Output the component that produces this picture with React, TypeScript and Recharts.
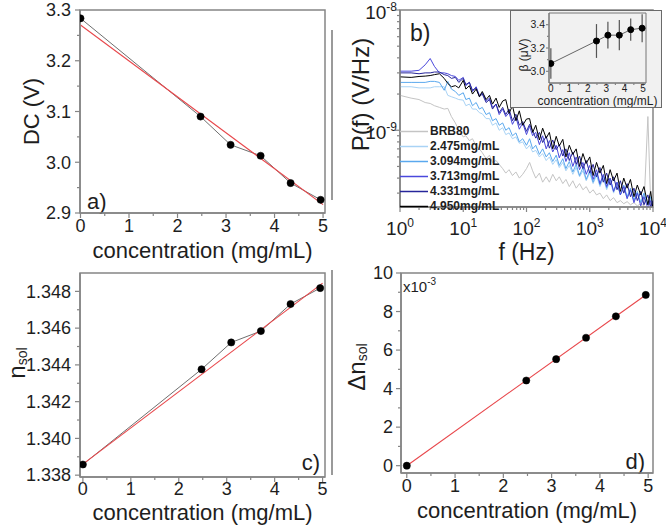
import React from 'react';
import { ComposedChart, Line, XAxis, YAxis, ReferenceArea, Legend, ErrorBar } from 'recharts';

const FONT = '"Liberation Sans", Arial, Helvetica, sans-serif';
const AXIS = '#858585';
const TXT = '#1e1e1e';
const FIT = '#e8474b';
const CONN = '#6f6f6f';

// ---------- data ----------
const concentrations = [0, 2.475, 3.094, 3.713, 4.331, 4.95];

// a) DC voltage
const dcValues = [3.2836, 3.09, 3.0344, 3.0128, 2.959, 2.926];
const dcFitX = [0, 5];
const dcFitY = [3.2705, 2.9164];

// c) refractive index
const nValues = [1.33858, 1.34376, 1.34522, 1.34584, 1.34731, 1.34818];
const nFitX = [0, 5];
const nFitY = [1.3386, 1.34845];

// d) delta n (x1e-3)
const dnValues = [0, 4.42, 5.53, 6.64, 7.75, 8.86];
const dnFitX = [0, 5];
const dnFitY = [0, 8.95];

// inset beta
const betaValues = [3.067, 3.26, 3.31, 3.31, 3.357, 3.37];
const betaErr = [0.13, 0.145, 0.115, 0.13, 0.095, 0.12];

// b) spectra, P(f) in units of 1e-10 V/Hz
const freqs = [1, 1.5, 2, 2.5, 3, 3.5, 4.2, 5, 5.7, 6.5, 7.5, 8.5, 10, 11, 12.5, 14, 16, 18, 20, 23, 26, 29, 33, 37, 42, 47, 53, 60, 68, 77, 87, 100, 112, 125, 140, 160, 180, 205, 230, 260, 295, 330, 375, 420, 475, 540, 610, 690, 780, 880, 1000, 1130, 1280, 1450, 1640, 1850, 2100, 2380, 2700, 3050, 3450, 3900, 4400, 5000, 5650, 6400, 7200, 8300, 9200, 10000];
const psdBRB80 = [19.5, 18.5, 18.0, 17.0, 16.7, 16.0, 15.5, 15.0, 15.2, 13.0,
  11.5, 10.0, 8.8, 9.0, 8.2, 8.5, 7.4, 7.0, 6.5, 5.8,
  6.2, 5.4, 5.6, 5.2, 4.8, 4.4, 4.7, 4.2, 4.5, 4.0,
  4.3, 4.8, 5.4, 4.6, 4.0, 4.4, 3.7, 4.1, 3.7, 4.3,
  3.8, 4.1, 3.6, 3.9, 3.4, 3.8, 3.3, 3.6, 3.2, 3.4,
  3.0, 3.2, 2.9, 3.0, 2.7, 2.9, 2.6, 2.75, 2.5, 2.6,
  2.45, 2.55, 2.4, 2.5, 2.35, 2.45, 2.35, 13.0, 2.4, 2.35];
const psd2475 = [23.0, 23.0, 22.5, 22.5, 22.5, 23.0, 23.0, 23.0, 19.5, 19.0,
  18.5, 18.0, 17.8, 16.0, 16.5, 15.0, 15.0, 14.0, 13.7, 12.5,
  12.5, 11.0, 11.5, 10.0, 10.5, 9.2, 9.5, 8.5, 8.8, 7.8,
  8.0, 7.0, 7.5, 6.6, 6.8, 6.0, 6.4, 5.6, 6.0, 5.2,
  5.7, 4.9, 5.4, 4.6, 5.1, 4.3, 4.9, 4.1, 4.6, 3.8,
  4.4, 3.6, 4.2, 3.4, 4.0, 3.2, 3.8, 3.0, 3.6, 2.9,
  3.4, 2.7, 3.2, 2.6, 3.0, 2.5, 2.9, 2.4, 2.7, 2.3];
const psd3094 = [25.0, 25.0, 25.0, 25.0, 25.5, 25.5, 25.0, 21.5, 25.5, 22.0,
  21.0, 19.5, 20.5, 18.0, 18.5, 16.0, 17.0, 15.0, 15.5, 13.5,
  14.0, 12.0, 12.5, 11.0, 11.5, 10.0, 10.5, 9.0, 9.5, 8.0,
  8.5, 7.5, 8.5, 7.0, 7.5, 6.3, 7.0, 6.0, 6.5, 5.5,
  6.2, 5.1, 5.8, 4.8, 5.5, 4.5, 5.2, 4.2, 4.9, 3.9,
  4.6, 3.7, 4.4, 3.5, 4.2, 3.3, 4.0, 3.1, 3.7, 2.9,
  3.5, 2.8, 3.3, 2.6, 3.1, 2.5, 3.0, 2.4, 2.8, 2.3];
const psd3713 = [31.0, 31.0, 31.5, 35.0, 39.5, 34.0, 30.0, 30.0, 29.5, 28.5,
  28.0, 26.0, 27.5, 23.5, 25.0, 21.0, 23.0, 19.5, 20.5, 17.5,
  18.5, 15.5, 16.5, 13.5, 15.0, 13.0, 14.0, 11.2, 12.8, 10.2,
  11.5, 9.2, 10.8, 9.0, 9.6, 7.6, 9.0, 7.0, 8.2, 6.6,
  7.5, 5.9, 6.9, 5.5, 6.5, 5.0, 6.0, 4.7, 5.4, 4.3,
  5.1, 3.9, 4.7, 3.6, 4.3, 3.4, 4.0, 3.1, 3.7, 2.9,
  3.4, 2.7, 3.2, 2.5, 3.0, 2.35, 2.8, 2.25, 2.6, 2.2];
const psd4331 = [30.0, 30.0, 29.5, 30.0, 30.0, 30.5, 30.5, 29.0, 28.5, 27.0,
  27.5, 25.0, 27.0, 24.0, 25.0, 21.5, 22.5, 19.0, 20.0, 17.0,
  18.0, 15.0, 16.5, 14.0, 15.5, 13.5, 15.0, 12.0, 13.6, 11.0,
  11.8, 9.8, 11.2, 9.9, 8.6, 9.6, 7.9, 8.9, 7.1, 8.3,
  6.9, 7.6, 6.1, 7.0, 5.6, 6.6, 5.2, 6.1, 4.8, 5.6,
  4.4, 5.2, 4.1, 4.9, 3.7, 4.4, 3.5, 4.1, 3.2, 3.8,
  3.0, 3.6, 2.8, 3.3, 2.6, 3.1, 2.4, 2.9, 2.3, 2.6];
const psd4950 = [27.8, 27.5, 28.0, 28.2, 28.5, 29.0, 29.5, 27.0, 24.5, 23.0,
  23.5, 22.5, 26.0, 22.0, 23.5, 20.0, 22.0, 19.0, 21.0, 18.0,
  19.5, 16.5, 18.5, 15.5, 17.5, 18.0, 13.8, 16.0, 12.0, 14.5,
  11.0, 12.4, 12.5, 9.6, 11.0, 8.3, 10.4, 8.6, 9.6, 7.0,
  8.9, 7.4, 8.4, 6.0, 7.5, 6.3, 7.0, 5.0, 6.4, 5.3,
  6.0, 4.2, 5.4, 4.4, 5.1, 3.6, 4.7, 3.8, 4.4, 3.1,
  4.0, 3.3, 3.9, 2.8, 3.5, 2.9, 3.4, 2.4, 3.1, 2.2];

const seriesKeys = ['brb', 'c2475', 'c3094', 'c3713', 'c4331', 'c4950'];
const seriesNames = ['BRB80', '2.475mg/mL', '3.094mg/mL', '3.713mg/mL', '4.331mg/mL', '4.950mg/mL'];
const seriesColors = ['#c4c4c4', '#a9d3f5', '#5aa8ee', '#4a48dc', '#26259a', '#000000'];
const seriesValues = [psdBRB80, psd2475, psd3094, psd3713, psd4331, psd4950];

// ticks
const concTicks = [0, 0.5, 1, 1.5, 2, 2.5, 3, 3.5, 4, 4.5, 5];
const concMajors = [0, 1, 2, 3, 4, 5];
const dcTicks = [2.9, 2.95, 3.0, 3.05, 3.1, 3.15, 3.2, 3.25, 3.3];
const dcMajors = [2.9, 3.0, 3.1, 3.2, 3.3];
const nTicks = [1.338, 1.339, 1.34, 1.341, 1.342, 1.343, 1.344, 1.345, 1.346, 1.347, 1.348];
const nMajors = [1.338, 1.34, 1.342, 1.344, 1.346, 1.348];
const dnTicks = [0, 1, 2, 3, 4, 5, 6, 7, 8, 9, 10];
const dnMajors = [0, 2, 4, 6, 8, 10];
const betaTicks = [3.0, 3.1, 3.2, 3.3, 3.4];
const betaMajors = [3.0, 3.2, 3.4];
const fTicks = [1, 2, 3, 4, 5, 6, 7, 8, 9, 10, 20, 30, 40, 50, 60, 70, 80, 90, 100, 200, 300, 400, 500, 600, 700, 800, 900, 1000, 2000, 3000, 4000, 5000, 6000, 7000, 8000, 9000, 10000];
const fMajors = [1, 10, 100, 1000, 10000];
const pTicks = [3e-10, 4e-10, 5e-10, 6e-10, 7e-10, 8e-10, 9e-10, 1e-9, 2e-9, 3e-9, 4e-9, 5e-9, 6e-9, 7e-9, 8e-9, 9e-9, 1e-8];
const pMajors = [1e-9, 1e-8];

// ---------- built tables ----------
const pts = (xs: number[], ys: number[]) => xs.map((x, i) => ({ x, y: ys[i] }));
const dcData = pts(concentrations, dcValues);
const dcFit = pts(dcFitX, dcFitY);
const nData = pts(concentrations, nValues);
const nFit = pts(nFitX, nFitY);
const dnData = pts(concentrations, dnValues);
const dnFit = pts(dnFitX, dnFitY);
const betaData = concentrations.map((x, i) => ({ x, y: betaValues[i], err: betaErr[i] }));
const psdData = freqs.map((f, i) => {
  const row: any = { f };
  seriesKeys.forEach((k, j) => { row[k] = seriesValues[j][i] * 1e-10; });
  return row;
});

// ---------- helpers ----------
const isMajorVal = (majors: number[], v: number) =>
  majors.some((m) => Math.abs(m - v) <= Math.abs(m) * 1e-6 + 1e-15);

type TickCfg = {
  majors: number[];
  label: (v: number) => React.ReactNode;
  fontSize: number;
  major: number;
  minor: number;
  offset: number;
  dy?: number;
};

const makeYTick = (c: TickCfg) => (p: any) => {
  const { x, y, payload } = p;
  const maj = isMajorVal(c.majors, payload.value);
  return (
    <g>
      <line x1={x} x2={x - (maj ? c.major : c.minor)} y1={y} y2={y} stroke={AXIS} strokeWidth={1.2} />
      {maj ? (
        <text x={x - c.offset} y={y + (c.dy ?? c.fontSize * 0.35)} textAnchor="end" fontSize={c.fontSize} fontFamily={FONT} fill={TXT}>
          {c.label(payload.value)}
        </text>
      ) : null}
    </g>
  );
};

const makeXTick = (c: TickCfg) => (p: any) => {
  const { x, y, payload } = p;
  const maj = isMajorVal(c.majors, payload.value);
  return (
    <g>
      <line x1={x} x2={x} y1={y} y2={y + (maj ? c.major : c.minor)} stroke={AXIS} strokeWidth={1.2} />
      {maj ? (
        <text x={x} y={y + c.offset} textAnchor="middle" fontSize={c.fontSize} fontFamily={FONT} fill={TXT}>
          {c.label(payload.value)}
        </text>
      ) : null}
    </g>
  );
};

const powLabel = (v: number) => (
  <>
    <tspan>10</tspan>
    <tspan dy={-8} fontSize={12}>{String(Math.round(Math.log10(v)))}</tspan>
  </>
);

const xTitle = (text: React.ReactNode, baseline: number, fontSize: number) => (props: any) => {
  const vb = props.viewBox || {};
  const cx = (vb.x ?? 0) + (vb.width ?? 0) / 2;
  return (
    <text x={cx} y={(vb.y ?? 0) + baseline} textAnchor="middle" fontSize={fontSize} fontFamily={FONT} fill={TXT}>
      {text}
    </text>
  );
};

const yTitle = (content: React.ReactNode, cxOff: number, cyShift: number, fontSize: number) => (props: any) => {
  const vb = props.viewBox || {};
  const cx = (vb.x ?? 0) + cxOff;
  const cy = (vb.y ?? 0) + (vb.height ?? 0) / 2 + cyShift;
  return (
    <text x={cx} y={cy} transform={`rotate(-90 ${cx} ${cy})`} textAnchor="middle" dominantBaseline="central" fontSize={fontSize} fontFamily={FONT} fill={TXT}>
      {content}
    </text>
  );
};

const tag = (text: React.ReactNode, corner: 'bl' | 'br' | 'tl', dx: number, dy: number, fontSize: number) => (props: any) => {
  const vb = props.viewBox || {};
  const x0 = vb.x ?? 0, y0 = vb.y ?? 0, w = vb.width ?? 0, h = vb.height ?? 0;
  const x = corner === 'br' ? x0 + w - dx : x0 + dx;
  const y = corner === 'tl' ? y0 + dy : y0 + h - dy;
  return (
    <text x={x} y={y} textAnchor={corner === 'br' ? 'end' : 'start'} fontSize={fontSize} fontFamily={FONT} fill={TXT}>
      {text}
    </text>
  );
};

const axisLine = { stroke: AXIS, strokeWidth: 1.5 };
const dotStyle = { r: 3.6, fill: '#000', stroke: '#000', strokeWidth: 0.5 };
const commonTickProps = { tickSize: 0, tickMargin: 0, tickLine: false, interval: 0 as const, allowDataOverflow: true };

// ---------- panels ----------
const PanelA = () => (
  <ComposedChart width={330} height={275} margin={{ top: 10, right: 5, bottom: 15, left: 0 }}>
    <XAxis type="number" dataKey="x" domain={[-0.01, 5.04]} ticks={concTicks} height={47} axisLine={axisLine}
      {...commonTickProps}
      tick={makeXTick({ majors: concMajors, label: (v) => String(v), fontSize: 18, major: 5, minor: 3, offset: 19 })}
      label={xTitle('concentration (mg/mL)', 45, 22)} />
    <YAxis type="number" domain={[2.9, 3.3]} ticks={dcTicks} width={80} axisLine={axisLine}
      {...commonTickProps}
      tick={makeYTick({ majors: dcMajors, label: (v) => v.toFixed(1), fontSize: 18, major: 5, minor: 3, offset: 9 })}
      label={yTitle('DC (V)', 31, 0, 22)} />
    <ReferenceArea x1={-0.01} x2={5.04} y1={2.9} y2={3.3} fill="none" stroke={AXIS} strokeWidth={1.5}
      label={tag('a)', 'bl', 7, 4, 22)} />
    <Line data={dcData} dataKey="y" stroke={CONN} strokeWidth={1} dot={false} isAnimationActive={false} />
    <Line data={dcFit} dataKey="y" stroke={FIT} strokeWidth={1.1} dot={false} isAnimationActive={false} />
    <Line data={dcData} dataKey="y" stroke="none" dot={dotStyle} isAnimationActive={false} />
  </ComposedChart>
);

const legendContent = () => (
  <div style={{ fontFamily: FONT, fontWeight: 'bold', fontSize: 12, color: TXT, lineHeight: '15px' }}>
    {seriesNames.map((n, i) => (
      <div key={n} style={{ display: 'flex', alignItems: 'center', height: 15, whiteSpace: 'nowrap' }}>
        <svg width={30} height={15} style={{ display: 'block' }}>
          <line x1={0} x2={28} y1={7.5} y2={7.5} stroke={seriesColors[i]} strokeWidth={1.5} />
        </svg>
        <span>{n}</span>
      </div>
    ))}
  </div>
);

const PanelB = () => (
  <ComposedChart width={336} height={275} data={psdData} margin={{ top: 10, right: 13, bottom: 15, left: 0 }}>
    <XAxis type="number" dataKey="f" scale="log" domain={[1, 10000]} ticks={fTicks} height={53} axisLine={axisLine}
      {...commonTickProps}
      tick={makeXTick({ majors: fMajors, label: powLabel, fontSize: 19, major: 5, minor: 3, offset: 28 })}
      label={xTitle('f (Hz)', 53, 23)} />
    <YAxis type="number" scale="log" domain={[2.3e-10, 1e-8]} ticks={pTicks} width={70} axisLine={axisLine}
      {...commonTickProps}
      tick={makeYTick({ majors: pMajors, label: powLabel, fontSize: 19, major: 5, minor: 3, offset: 3, dy: 9 })}
      label={yTitle('P(f) (V/Hz)', 30, -14, 24)} />
    <ReferenceArea x1={1} x2={10000} y1={2.3e-10} y2={1e-8} fill="none" stroke={AXIS} strokeWidth={1.5}
      label={tag('b)', 'tl', 10, 31, 23)} />
    {seriesKeys.map((k, i) => (
      <Line key={k} dataKey={k} name={seriesNames[i]} stroke={seriesColors[i]} strokeWidth={1} dot={false} isAnimationActive={false} />
    ))}
    <Legend content={legendContent} layout="vertical" align="center" verticalAlign="middle"
      wrapperStyle={{ left: 70, top: 124, width: 'auto' }} />
  </ComposedChart>
);

const Inset = () => (
  <ComposedChart width={150} height={96} margin={{ top: 2, right: 15, bottom: 0, left: 0 }}>
    <XAxis type="number" dataKey="x" domain={[-0.1, 5.16]} ticks={concTicks} height={24} axisLine={{ stroke: '#777', strokeWidth: 1 }}
      {...commonTickProps}
      tick={makeXTick({ majors: concMajors, label: (v) => String(v), fontSize: 10, major: 3, minor: 2, offset: 9 })}
      label={xTitle('concentration (mg/mL)', 22, 12)} />
    <YAxis type="number" domain={[2.9, 3.5]} ticks={betaTicks} width={38} axisLine={{ stroke: '#777', strokeWidth: 1 }}
      {...commonTickProps}
      tick={makeYTick({ majors: betaMajors, label: (v) => v.toFixed(1), fontSize: 10.5, major: 3, minor: 2, offset: 4 })}
      label={yTitle('β (μV)', 13, 7, 12)} />
    <ReferenceArea x1={-0.1} x2={5.16} y1={2.9} y2={3.5} fill="none" stroke="#777" strokeWidth={1} />
    <Line data={betaData} dataKey="y" stroke="#666" strokeWidth={1} dot={{ r: 3, fill: '#000', stroke: '#000' }} isAnimationActive={false}>
      <ErrorBar dataKey="err" width={0} stroke="#555" strokeWidth={1.2} direction="y" />
    </Line>
  </ComposedChart>
);

const PanelC = () => (
  <ComposedChart width={330} height={270} margin={{ top: 13, right: 5, bottom: 0, left: 0 }}>
    <XAxis type="number" dataKey="x" domain={[-0.06, 5.05]} ticks={concTicks} height={53} axisLine={axisLine}
      {...commonTickProps}
      tick={makeXTick({ majors: concMajors, label: (v) => String(v), fontSize: 18, major: 5, minor: 3, offset: 18 })}
      label={xTitle('concentration (mg/mL)', 43, 22)} />
    <YAxis type="number" domain={[1.3379, 1.349]} ticks={nTicks} width={80} axisLine={axisLine}
      {...commonTickProps}
      tick={makeYTick({ majors: nMajors, label: (v) => v.toFixed(3), fontSize: 18, major: 5, minor: 3, offset: 9 })}
      label={yTitle(<><tspan>n</tspan><tspan dy={6} fontSize={14}>sol</tspan></>, 16, -12, 24)} />
    <ReferenceArea x1={-0.06} x2={5.05} y1={1.3379} y2={1.349} fill="none" stroke={AXIS} strokeWidth={1.5}
      label={tag('c)', 'br', 5, 7, 22)} />
    <Line data={nData} dataKey="y" stroke={CONN} strokeWidth={1} dot={false} isAnimationActive={false} />
    <Line data={nFit} dataKey="y" stroke={FIT} strokeWidth={1.1} dot={false} isAnimationActive={false} />
    <Line data={nData} dataKey="y" stroke="none" dot={dotStyle} isAnimationActive={false} />
  </ComposedChart>
);

const PanelD = () => (
  <ComposedChart width={336} height={270} margin={{ top: 13, right: 13, bottom: 0, left: 0 }}>
    <XAxis type="number" dataKey="x" domain={[-0.12, 5.1]} ticks={concTicks} height={57} axisLine={axisLine}
      {...commonTickProps}
      tick={makeXTick({ majors: concMajors, label: (v) => String(v), fontSize: 18, major: 5, minor: 3, offset: 19 })}
      label={xTitle('concentration (mg/mL)', 45, 22)} />
    <YAxis type="number" domain={[-0.38, 10]} ticks={dnTicks} width={71} axisLine={axisLine}
      {...commonTickProps}
      tick={makeYTick({ majors: dnMajors, label: (v) => String(v), fontSize: 18, major: 5, minor: 3, offset: 8 })}
      label={yTitle(<><tspan>Δn</tspan><tspan dy={6} fontSize={14}>sol</tspan></>, 26, -6, 24)} />
    <ReferenceArea x1={-0.12} x2={5.1} y1={-0.38} y2={10} fill="none" stroke={AXIS} strokeWidth={1.5}
      label={tag('d)', 'br', 8, 4, 22)} />
    <ReferenceArea x1={-0.12} x2={5.1} y1={-0.38} y2={10} fill="none" stroke="none"
      label={tag(<><tspan>x10</tspan><tspan dy={-7} fontSize={10}>-3</tspan></>, 'tl', 2, 19, 15)} />
    <Line data={dnFit} dataKey="y" stroke={FIT} strokeWidth={1.1} dot={false} isAnimationActive={false} />
    <Line data={dnData} dataKey="y" stroke="none" dot={dotStyle} isAnimationActive={false} />
  </ComposedChart>
);

export default function App() {
  return (
    <div style={{ position: 'absolute', left: 0, top: 0, width: 666, height: 530, background: '#fff', overflow: 'hidden', fontFamily: FONT }}>
      <div style={{ position: 'absolute', left: 0, top: 0 }}><PanelA /></div>
      <div style={{ position: 'absolute', left: 330, top: 0 }}><PanelB /></div>
      <div style={{ position: 'absolute', left: 510, top: 10, width: 152, height: 98, background: '#f1f1f1', border: '1px solid #6a6a6a', boxSizing: 'border-box' }}>
        <Inset />
      </div>
      <div style={{ position: 'absolute', left: 0, top: 260 }}><PanelC /></div>
      <div style={{ position: 'absolute', left: 330, top: 260 }}><PanelD /></div>
      <div style={{ position: 'absolute', left: 331, top: 30, width: 2, height: 170, background: '#9a9a9a' }} />
      <div style={{ position: 'absolute', left: 331, top: 270, width: 2, height: 205, background: '#9a9a9a' }} />
    </div>
  );
}
